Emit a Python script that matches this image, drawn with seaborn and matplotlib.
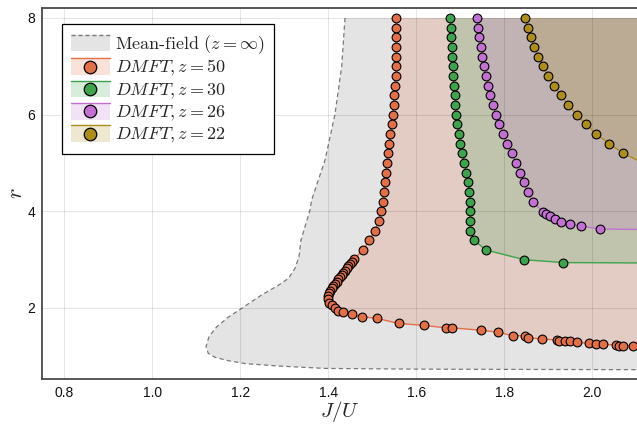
import numpy as np
import matplotlib
matplotlib.use("Agg")
import matplotlib.pyplot as plt
import seaborn as sns
from matplotlib.legend_handler import HandlerBase
from matplotlib.patches import Rectangle, Patch
from matplotlib.lines import Line2D

# ---------------------------------------------------------------- data
# Mean-field phase boundary (z = infinity)
mf_J = [1.438, 1.4304, 1.415, 1.3925, 1.362, 1.3584, 1.338, 1.3334, 1.3243,
        1.3091, 1.2864, 1.2486, 1.2107, 1.1977, 1.1727, 1.1464, 1.1289, 1.122,
        1.1273, 1.1425, 1.1727, 1.2107, 1.2864, 1.3925, 1.6, 1.9, 2.3]
mf_r = [8.0, 7.0, 6.0, 5.06, 4.23, 4.03, 3.41, 3.06, 2.82,
        2.61, 2.47, 2.27, 2.04, 1.96, 1.81, 1.61, 1.41, 1.20,
        1.06, 0.98, 0.91, 0.85, 0.80, 0.75, 0.735, 0.728, 0.72]

# DMFT, z = 50
J50 = [1.5546, 1.5546, 1.5545, 1.5543, 1.5539, 1.5535, 1.5528, 1.5516, 1.5501,
       1.5482, 1.5460, 1.5438, 1.5410, 1.5383, 1.5355, 1.5328, 1.5303, 1.5282,
       1.5262, 1.5240, 1.5200, 1.5145, 1.5061, 1.4925, 1.4790,
       1.4575, 1.4532, 1.4493, 1.4455, 1.4418, 1.4380, 1.4341, 1.4305, 1.4266,
       1.4227, 1.4191, 1.4152, 1.4114, 1.4077, 1.4039, 1.4016, 1.4000, 1.4000,
       1.4023, 1.4077, 1.4152, 1.4227, 1.4341, 1.4532, 1.4759, 1.5100,
       1.5600, 1.6175, 1.6668, 1.6804, 1.7470, 1.7850, 1.8190, 1.8470, 1.8547,
       1.8850, 1.9190, 1.9250, 1.9380, 1.9490, 1.9645, 1.9932, 2.0084, 2.0236,
       2.0539, 2.0614, 2.0690, 2.0918, 2.1250]
r50 = [8.0, 7.8, 7.6, 7.4, 7.2, 7.0, 6.8, 6.6, 6.4,
       6.2, 6.0, 5.8, 5.6, 5.4, 5.2, 5.0, 4.8, 4.6,
       4.4, 4.2, 4.0, 3.8, 3.6, 3.4, 3.2,
       3.007, 2.958, 2.910, 2.869, 2.821, 2.772, 2.730, 2.683, 2.635,
       2.593, 2.544, 2.496, 2.455, 2.407, 2.358, 2.303, 2.248, 2.179,
       2.109, 2.062, 1.993, 1.944, 1.910, 1.869, 1.820, 1.786,
       1.68, 1.64, 1.59, 1.59, 1.54, 1.50, 1.427, 1.427, 1.385,
       1.358, 1.338, 1.317, 1.317, 1.317, 1.29, 1.27, 1.249, 1.249,
       1.234, 1.22, 1.22, 1.22, 1.21]

# DMFT, z = 30
J30 = [1.6766, 1.6781, 1.6789, 1.6804, 1.6819, 1.6826, 1.6842, 1.6857, 1.6872,
       1.6887, 1.6902, 1.6932, 1.6963, 1.6993, 1.7039, 1.7084, 1.7137, 1.7175,
       1.7205, 1.7215, 1.7220, 1.7220, 1.7220, 1.7311, 1.7584, 1.8448, 1.9340,
       2.1500]
r30 = [8.0, 7.8, 7.6, 7.4, 7.2, 7.0, 6.8, 6.6, 6.4,
       6.2, 6.0, 5.8, 5.6, 5.4, 5.2, 5.0, 4.8, 4.6,
       4.4, 4.2, 4.0, 3.8, 3.6, 3.4, 3.2, 3.0, 2.94,
       2.93]

# DMFT, z = 26
J26 = [1.7372, 1.7410, 1.7433, 1.7463, 1.7501, 1.7531, 1.7577, 1.7630, 1.7675,
       1.7736, 1.7811, 1.7887, 1.7978, 1.8069, 1.8167, 1.8266, 1.8357, 1.8448,
       1.8531, 1.8646, 1.8873, 1.8948, 1.9039, 1.9152, 1.9289, 1.9493, 1.9743,
       2.0175, 2.1600]
r26 = [8.0, 7.8, 7.6, 7.4, 7.2, 7.0, 6.8, 6.6, 6.4,
       6.2, 6.0, 5.8, 5.6, 5.4, 5.2, 5.0, 4.8, 4.6,
       4.4, 4.2, 3.99, 3.945, 3.903, 3.841, 3.786, 3.738, 3.696,
       3.634, 3.62]

# DMFT, z = 22
J22 = [1.8470, 1.8531, 1.8600, 1.8683, 1.8774, 1.8880, 1.8993, 1.9130, 1.9281,
       1.9455, 1.9645, 1.9857, 2.0092, 2.0380, 2.0705, 2.1150, 2.1550]
r22 = [8.0, 7.8, 7.6, 7.4, 7.2, 7.0, 6.8, 6.6, 6.4,
       6.2, 6.0, 5.8, 5.6, 5.4, 5.2, 5.0, 4.8]

labels = [r"$DMFT, z = 50$", r"$DMFT, z = 30$", r"$DMFT, z = 26$", r"$DMFT, z = 22$"]
mf_label = r"$\text{Mean-field}\ (z = \infty)$"
xticks = [0.8, 1.0, 1.2, 1.4, 1.6, 1.8, 2.0]
yticks = [2, 4, 6, 8]

# ---------------------------------------------------------------- style
sns.set_theme(style="white")
plt.rcParams["font.family"] = ["Liberation Sans", "DejaVu Sans"]
plt.rcParams["mathtext.fontset"] = "cm"

colors = ["#e26f46", "#3da44d", "#c271d2", "#ac8e18"]
mf_fill = "#e4e4e4"
mf_edge = "#7a7a7a"
frame = "#4a4a4a"
r_top = 8.0
x_far = 2.4

fig = plt.figure(figsize=(6.37, 4.24), dpi=100)
ax = fig.add_axes([42 / 637, 45 / 424, 595 / 637, 371.5 / 424])

# mean-field region
ax.fill(np.r_[mf_J, x_far, x_far], np.r_[mf_r, mf_r[-1], r_top],
        color=mf_fill, lw=0, zorder=0.9)
sns.lineplot(x=mf_J, y=mf_r, sort=False, estimator=None, ax=ax,
             color=mf_edge, lw=0.9, linestyle=(0, (3.5, 2.5)), zorder=1.2)

# DMFT regions, boundaries and points
series = [(J50, r50), (J30, r30), (J26, r26), (J22, r22)]
for (J, r), c in zip(series, colors):
    ax.fill(np.r_[J, x_far, x_far], np.r_[r, r[-1], r_top],
            color=c, alpha=0.2, lw=0, zorder=1)
for (J, r), c in zip(series, colors):
    sns.lineplot(x=J, y=r, sort=False, estimator=None, ax=ax,
                 color=c, lw=1.0, zorder=2)
    sns.scatterplot(x=J, y=r, ax=ax, color=c, s=40, edgecolor="black",
                    linewidth=0.8, zorder=3)

# ---------------------------------------------------------------- axes
ax.set_xlim(0.7493, 2.1016)
ax.set_ylim(0.531, 8.217)
ax.set_xticks(xticks)
ax.set_xticklabels([f"{t:.1f}" for t in xticks])
ax.set_yticks(yticks)
ax.set_yticklabels([str(t) for t in yticks])
ax.grid(True, color="black", alpha=0.1, lw=0.8)
ax.set_axisbelow("line")
for side in ["left", "bottom", "top"]:
    ax.spines[side].set_color(frame)
    ax.spines[side].set_linewidth(1.3)
ax.spines["right"].set_visible(False)
ax.tick_params(axis="both", direction="in", length=4, width=1, color=frame,
               labelsize=10, labelcolor="#111111", pad=5)
ax.tick_params(axis="x", top=False)
ax.set_xlabel(r"$J/U$", fontsize=15, labelpad=-1)
ax.set_ylabel(r"$r$", fontsize=16, labelpad=0)


# ---------------------------------------------------------------- legend
class BandHandler(HandlerBase):
    def __init__(self, fill, edge, alpha=1.0, dashed=False, marker=None):
        super().__init__()
        self.fill, self.edge, self.alpha = fill, edge, alpha
        self.dashed, self.marker = dashed, marker

    def create_artists(self, legend, orig_handle, xdescent, ydescent,
                       width, height, fontsize, trans):
        x0, y0 = -xdescent, -ydescent
        rect = Rectangle((x0, y0), width, height, facecolor=self.fill,
                         alpha=self.alpha, lw=0, transform=trans)
        top = Line2D([x0, x0 + width], [y0 + height] * 2, color=self.edge,
                     lw=1.0, ls=(0, (3, 2)) if self.dashed else "-",
                     transform=trans)
        arts = [rect, top]
        if self.marker is not None:
            arts.append(Line2D([x0 + width / 2], [y0 + height / 2], marker="o",
                               ms=9, mfc=self.marker, mec="black", mew=0.9,
                               ls="none", transform=trans))
        return arts


handles = [Patch(label=mf_label)]
hmap = {handles[0]: BandHandler(mf_fill, mf_edge, dashed=True)}
for c, lab in zip(colors, labels):
    h = Patch(label=lab)
    handles.append(h)
    hmap[h] = BandHandler(c, c, alpha=0.2, marker=c)

leg = ax.legend(handles=handles, handler_map=hmap, loc="upper left",
                bbox_to_anchor=(0.0331, 0.9548), borderaxespad=0,
                fontsize=13, handlelength=2.17, handleheight=1.05,
                handletextpad=0.3, labelspacing=0.125, borderpad=0.5,
                fancybox=False, framealpha=1, edgecolor="black")
leg.get_frame().set_linewidth(0.9)
leg.set_zorder(5)

fig.savefig("out.png", dpi=100)
